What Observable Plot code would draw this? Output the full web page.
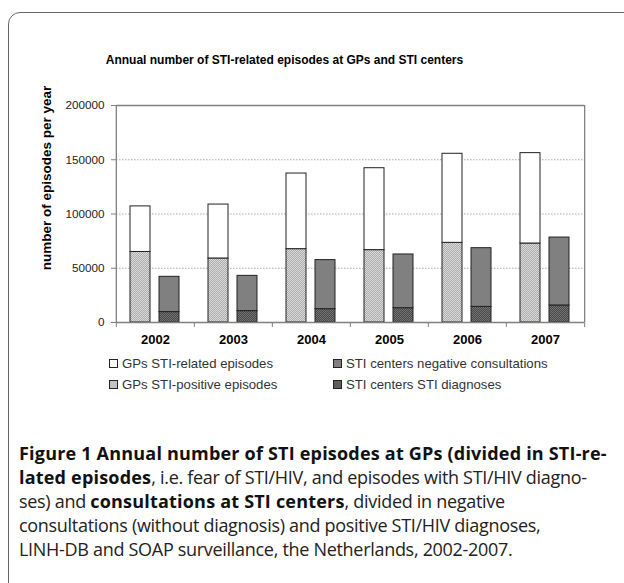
<!DOCTYPE html>
<html>
<head>
<meta charset="utf-8">
<script src="https://cdn.jsdelivr.net/npm/d3@7"></script>
<script src="https://cdn.jsdelivr.net/npm/@observablehq/plot@0.6"></script>
<style>
  html, body { margin: 0; padding: 0; background: #fff; }
  body { width: 624px; height: 583px; position: relative; overflow: hidden; }
  #box { position: absolute; left: 8px; top: 12px; width: 800px; height: 800px;
         border: 1px solid #666; border-top-left-radius: 12px; box-sizing: border-box; }
  #title { position: absolute; left: 0; width: 569px; top: 53px; text-align: center;
           font: bold 12px "Liberation Sans", Arial, sans-serif; color: #000; }
  #chart { position: absolute; left: 0; top: 0; }
  #legend { position: absolute; left: 109px; top: 353px; display: grid;
            grid-template-rows: 21px 21px; grid-auto-flow: column; grid-template-columns: 224px 270px;
            font: 13.2px "Liberation Sans", Arial, sans-serif; color: #333; }
  #legend .item { display: flex; align-items: center; white-space: nowrap; }
  #legend svg { margin-right: 4px; }
  #caption { position: absolute; left: 19px; top: 441px; font-family: "Open Sans", sans-serif;
             font-size: 18px; line-height: 24px; color: #222; white-space: nowrap; letter-spacing: -0.3px; }
  #caption b { font-weight: 700; color: #111; letter-spacing: 0.2px; }
</style>
</head>
<body>
<div id="box"></div>
<div id="title"></div>
<div id="chart"></div>
<div id="legend"></div>
<div id="caption"><b>Figure 1 Annual number of STI episodes at GPs (divided in STI-re-</b><br><b>lated episodes</b>, i.e. fear of STI/HIV, and episodes with STI/HIV diagno-<br>ses) and <b>consultations at STI centers</b>, divided in negative<br>consultations (without diagnosis) and positive STI/HIV diagnoses,<br>LINH-DB and SOAP surveillance, the Netherlands, 2002-2007.</div>
<script>
// ---- data ----
const titleText = "Annual number of STI-related episodes at GPs and STI centers";
const yLabel = "number of episodes per year";
const years = ["2002", "2003", "2004", "2005", "2006", "2007"];
const groups = ["GP", "STI"];
const seriesNames = [
  "GPs STI-related episodes",
  "GPs STI-positive episodes",
  "STI centers negative consultations",
  "STI centers STI diagnoses"
];
// segment heights (stacked)
const gpPositive      = [65000, 59000, 67600, 66700, 73400, 72800];
const gpRelatedOther  = [42000, 49700, 69700, 75500, 82100, 83300];
const stiDiagnoses    = [9600, 10500, 12300, 13200, 14400, 15700];
const stiNegative     = [32500, 32500, 45200, 49500, 54100, 62600];
const yTicks = [0, 50000, 100000, 150000, 200000];

// ---- table ----
const rows = [];
years.forEach((yr, i) => {
  rows.push({year: yr, group: "GP", series: seriesNames[1], value: gpPositive[i]});
  rows.push({year: yr, group: "GP", series: seriesNames[0], value: gpRelatedOther[i]});
  rows.push({year: yr, group: "STI", series: seriesNames[3], value: stiDiagnoses[i]});
  rows.push({year: yr, group: "STI", series: seriesNames[2], value: stiNegative[i]});
});

const fills = ["#ffffff", "url(#pLight)", "#808080", "url(#pDark)"];
const legendSwatch = ["#ffffff", "#c4c4c4", "#808080", "#5e5e5e"];
const gray = "#808080";
const W = 624, H = 350, mT = 105, mB = 28, mL = 115, mR = 39;
const plotH = H - mT - mB;
const fw = (W - mL - mR) / years.length;   // facet width (layout)
const firstYear = years[0], lastYear = years[years.length - 1];

document.getElementById("title").textContent = titleText;

const chart = Plot.plot({
  width: W,
  height: H,
  marginTop: mT,
  marginBottom: mB,
  marginLeft: mL,
  marginRight: mR,
  style: {fontFamily: "'Liberation Sans', Arial, sans-serif", fontSize: "11.7px", color: "#222", background: "transparent", overflow: "visible"},
  fx: {domain: years, padding: 0, label: null},
  x: {domain: groups, paddingInner: 0.31, paddingOuter: 0.49, axis: null},
  y: {domain: [yTicks[0], yTicks[yTicks.length - 1]]},
  color: {domain: seriesNames, range: fills},
  marks: [
    Plot.gridY(yTicks.slice(1, -1), {stroke: "#aaa", strokeOpacity: 1, strokeDasharray: "1.5,1.5"}),
    Plot.ruleY([yTicks[yTicks.length - 1]], {stroke: gray, strokeWidth: 1.3}),
    Plot.barY(rows, Plot.stackY({fx: "year", x: "group", y: "value", fill: "series", stroke: "#222", strokeWidth: 1})),
    Plot.ruleY([yTicks[0]], {stroke: gray, strokeWidth: 1.3}),
    // left axis line and right border
    Plot.ruleX([firstYear], {fx: d => d, x: null, dx: -fw / 2, stroke: gray, strokeWidth: 1.3}),
    Plot.ruleX([lastYear], {fx: d => d, x: null, dx: fw / 2, stroke: gray, strokeWidth: 1.3}),
    // category boundary ticks
    Plot.ruleX(years, {fx: d => d, x: null, dx: -fw / 2, insetTop: plotH, insetBottom: -5, stroke: gray}),
    Plot.ruleX([lastYear], {fx: d => d, x: null, dx: fw / 2, insetTop: plotH, insetBottom: -5, stroke: gray}),
    Plot.axisY({ticks: yTicks, tickSize: 5, tickPadding: 7, tickFormat: d => String(d),
      stroke: gray, fill: "#222", label: null}),
    Plot.text([yLabel], {fx: () => firstYear, x: null, frameAnchor: "left", text: d => d, rotate: -90,
      textAnchor: "middle", dx: -70, dy: -36, fontWeight: "bold", fontSize: 13.5, fill: "#000"}),
    Plot.axisFx({anchor: "bottom", tickSize: 0, tickPadding: 12, fontWeight: "bold", fontSize: 13, fill: "#000", label: null})
  ]
});

d3.select(chart).insert("defs", ":first-child").html(`
  <pattern id="pLight" width="2" height="2" patternUnits="userSpaceOnUse">
    <rect width="2" height="2" fill="#dadada"/>
    <rect width="1" height="1" fill="#acacac"/>
    <rect x="1" y="1" width="1" height="1" fill="#acacac"/>
  </pattern>
  <pattern id="pDark" width="2" height="2" patternUnits="userSpaceOnUse">
    <rect width="2" height="2" fill="#747474"/>
    <rect width="1" height="1" fill="#484848"/>
    <rect x="1" y="1" width="1" height="1" fill="#484848"/>
  </pattern>`);

document.getElementById("chart").appendChild(chart);

// legend
const legend = document.getElementById("legend");
seriesNames.forEach((name, i) => {
  const item = document.createElement("div");
  item.className = "item";
  item.innerHTML = `<svg width="9" height="9"><rect x="0.5" y="0.5" width="8" height="8" fill="${legendSwatch[i]}" stroke="#222"/></svg><span></span>`;
  item.querySelector("span").textContent = name;
  legend.appendChild(item);
});
</script>
</body>
</html>
